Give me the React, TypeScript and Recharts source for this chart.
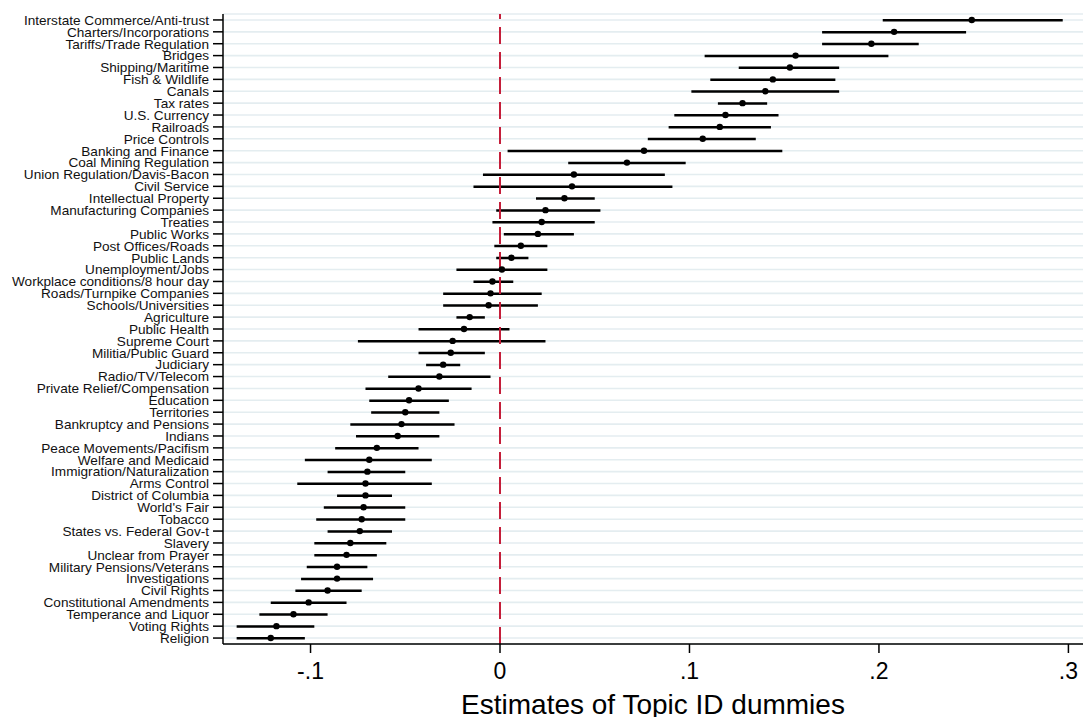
import React from "react";
import {
  ComposedChart,
  Bar,
  Line,
  XAxis,
  YAxis,
  CartesianGrid,
  ReferenceLine,
} from "recharts";

const topics: string[] = [
  "Interstate Commerce/Anti-trust",
  "Charters/Incorporations",
  "Tariffs/Trade Regulation",
  "Bridges",
  "Shipping/Maritime",
  "Fish & Wildlife",
  "Canals",
  "Tax rates",
  "U.S. Currency",
  "Railroads",
  "Price Controls",
  "Banking and Finance",
  "Coal Mining Regulation",
  "Union Regulation/Davis-Bacon",
  "Civil Service",
  "Intellectual Property",
  "Manufacturing Companies",
  "Treaties",
  "Public Works",
  "Post Offices/Roads",
  "Public Lands",
  "Unemployment/Jobs",
  "Workplace conditions/8 hour day",
  "Roads/Turnpike Companies",
  "Schools/Universities",
  "Agriculture",
  "Public Health",
  "Supreme Court",
  "Militia/Public Guard",
  "Judiciary",
  "Radio/TV/Telecom",
  "Private Relief/Compensation",
  "Education",
  "Territories",
  "Bankruptcy and Pensions",
  "Indians",
  "Peace Movements/Pacifism",
  "Welfare and Medicaid",
  "Immigration/Naturalization",
  "Arms Control",
  "District of Columbia",
  "World's Fair",
  "Tobacco",
  "States vs. Federal Gov-t",
  "Slavery",
  "Unclear from Prayer",
  "Military Pensions/Veterans",
  "Investigations",
  "Civil Rights",
  "Constitutional Amendments",
  "Temperance and Liquor",
  "Voting Rights",
  "Religion",
];

const estimates: number[] = [
  0.249, 0.208, 0.196, 0.156, 0.153, 0.144, 0.140, 0.128, 0.119, 0.116, 0.107,
  0.076, 0.067, 0.039, 0.038, 0.034, 0.024, 0.022, 0.020, 0.011, 0.006, 0.001,
  -0.004, -0.005, -0.006, -0.016, -0.019, -0.025, -0.026, -0.030, -0.032,
  -0.043, -0.048, -0.050, -0.052, -0.054, -0.065, -0.069, -0.070, -0.071,
  -0.071, -0.072, -0.073, -0.074, -0.079, -0.081, -0.086, -0.086, -0.091,
  -0.101, -0.109, -0.118, -0.121,
];

const lowerCI: number[] = [
  0.202, 0.170, 0.170, 0.108, 0.126, 0.111, 0.101, 0.115, 0.092, 0.089, 0.078,
  0.004, 0.036, -0.009, -0.014, 0.019, -0.002, -0.004, 0.002, -0.003, -0.002,
  -0.023, -0.014, -0.030, -0.030, -0.023, -0.043, -0.075, -0.043, -0.039,
  -0.059, -0.071, -0.069, -0.068, -0.079, -0.076, -0.087, -0.103, -0.091,
  -0.107, -0.086, -0.093, -0.097, -0.091, -0.098, -0.098, -0.102, -0.105,
  -0.108, -0.121, -0.127, -0.139, -0.139,
];

const upperCI: number[] = [
  0.297, 0.246, 0.221, 0.205, 0.179, 0.177, 0.179, 0.141, 0.147, 0.143, 0.135,
  0.149, 0.098, 0.087, 0.091, 0.050, 0.053, 0.050, 0.039, 0.025, 0.015, 0.025,
  0.007, 0.022, 0.020, -0.008, 0.005, 0.024, -0.008, -0.021, -0.005, -0.015,
  -0.027, -0.032, -0.024, -0.032, -0.043, -0.036, -0.050, -0.036, -0.057,
  -0.050, -0.050, -0.057, -0.060, -0.065, -0.070, -0.067, -0.073, -0.081,
  -0.091, -0.098, -0.103,
];

const xTicks: number[] = [-0.1, 0, 0.1, 0.2, 0.3];
const xTickLabels: string[] = ["-.1", "0", ".1", ".2", ".3"];

const data = topics.map((t, i) => ({
  topic: t,
  est: estimates[i],
  range: [lowerCI[i], upperCI[i]],
}));

const FONT = "Arial, 'Liberation Sans', Helvetica, sans-serif";

export default function App() {
  return (
    <div style={{ position: "absolute", left: 0, top: 0, background: "#fff" }}>
      <ComposedChart
        width={1083}
        height={717}
        data={data}
        layout="vertical"
        margin={{ top: 14, right: 0, bottom: 0, left: 0 }}
        barCategoryGap={0}
      >
        <CartesianGrid
          horizontal={true}
          vertical={false}
          stroke="#e4edf0"
          strokeWidth={1.6}
        />
        <XAxis
          type="number"
          domain={[-0.1462, 0.3077]}
          allowDataOverflow
          ticks={xTicks}
          tickFormatter={(v: number) => xTickLabels[xTicks.findIndex((t) => Math.abs(t - v) < 1e-9)] ?? String(v)}
          height={73}
          tickSize={9}
          tickMargin={10}
          axisLine={{ stroke: "#000", strokeWidth: 1.5 }}
          tickLine={{ stroke: "#000", strokeWidth: 1.5 }}
          tick={{ fill: "#000", fontSize: 23, fontFamily: FONT }}
          label={{
            value: "Estimates of Topic ID dummies",
            position: "insideBottom",
            offset: 3,
            fill: "#000",
            fontSize: 28,
            fontFamily: FONT,
          }}
        />
        <YAxis
          type="category"
          dataKey="topic"
          width={223}
          interval={0}
          tickSize={10}
          tickMargin={4}
          axisLine={{ stroke: "#000", strokeWidth: 1.5 }}
          tickLine={{ stroke: "#000", strokeWidth: 1.5 }}
          tick={{ fill: "#111", fontSize: 13.6, fontFamily: FONT }}
        />
        <ReferenceLine
          x={0}
          stroke="#c41e3a"
          strokeWidth={2}
          strokeDasharray="17 8"
          ifOverflow="extendDomain"
        />
        <Bar
          dataKey="range"
          barSize={2.5}
          fill="#000"
          isAnimationActive={false}
        />
        <Line
          dataKey="est"
          stroke="none"
          dot={{ r: 3.2, fill: "#000", stroke: "none" }}
          activeDot={false}
          isAnimationActive={false}
        />
      </ComposedChart>
    </div>
  );
}
